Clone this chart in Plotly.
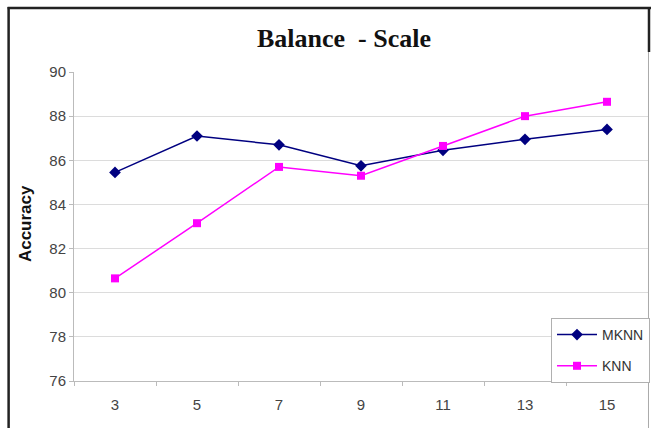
import plotly.graph_objects as go

k_values = [3, 5, 7, 9, 11, 13, 15]
mknn_acc = [85.45, 87.1, 86.7, 85.75, 86.45, 86.95, 87.4]
knn_acc = [80.65, 83.15, 85.7, 85.3, 86.65, 88.0, 88.65]

W, H = 651, 428
ML, MR, MT, MB = 74, 2, 72, 47
pw, ph = W - ML - MR, H - MT - MB

def px(x):
    return (x - ML) / pw

def py(y):
    return (H - MB - y) / ph

sans = "Liberation Sans, Arial, sans-serif"

fig = go.Figure()
fig.add_trace(go.Scatter(
    x=[str(k) for k in k_values], y=mknn_acc, name="MKNN",
    mode="lines+markers", legendgroup="a",
    line=dict(color="#000080", width=1.5),
    marker=dict(symbol="diamond", size=9, color="#000080"),
))
fig.add_trace(go.Scatter(
    x=[str(k) for k in k_values], y=knn_acc, name="KNN",
    mode="lines+markers", legendgroup="b",
    line=dict(color="#FF00FF", width=1.5),
    marker=dict(symbol="square", size=8, color="#FF00FF"),
))

fig.update_layout(
    width=W, height=H,
    margin=dict(l=ML, r=MR, t=MT, b=MB),
    paper_bgcolor="white", plot_bgcolor="white",
    title=dict(text="<b>Balance  - Scale</b>", x=344 / W, xanchor="center",
               y=1 - 38 / H, yanchor="middle",
               font=dict(family="Liberation Serif, Times New Roman, serif",
                         size=26, color="#111")),
    font=dict(family=sans, color="#333"),
    legend=dict(x=px(551), y=py(318), xanchor="left", yanchor="top",
                bgcolor="white", bordercolor="#b0b0b0", borderwidth=1,
                font=dict(size=14, color="#333"), itemwidth=40,
                traceorder="grouped", tracegroupgap=10),
    showlegend=True,
)
fig.update_xaxes(
    type="category", range=[-0.5, 6.5],
    tickson="boundaries", ticks="outside", ticklen=4, tickcolor="#bbb",
    showline=True, linecolor="#bbb", linewidth=1, ticklabelstandoff=10,
    showgrid=False, tickfont=dict(size=15, color="#444"),
)
fig.update_yaxes(
    range=[76, 90], dtick=2, ticks="outside", ticklen=4, tickcolor="#bbb",
    showline=True, linecolor="#bbb", linewidth=1,
    showgrid=True, gridcolor="#dcdcdc", gridwidth=1, zeroline=False,
    tickfont=dict(size=15, color="#444"),
)

fig.add_annotation(
    text="<b>Accuracy</b>", textangle=-90, xref="paper", yref="paper",
    x=px(25), y=py(224), xanchor="center", yanchor="middle", showarrow=False,
    font=dict(size=17, color="#111", family=sans),
)

# outer chart frame
frame = dict(color="#222", width=2.5)
fig.add_shape(type="line", xref="paper", yref="paper",
              x0=px(8.5), x1=px(8.5), y0=py(7), y1=py(440), line=frame)
fig.add_shape(type="line", xref="paper", yref="paper",
              x0=px(7.5), x1=px(652), y0=py(8), y1=py(8), line=frame)
fig.add_shape(type="line", xref="paper", yref="paper",
              x0=px(650), x1=px(650), y0=py(7), y1=py(52), line=frame)
fig.add_shape(type="line", xref="paper", yref="paper",
              x0=px(649.5), x1=px(649.5), y0=py(52), y1=py(440),
              line=dict(color="#aaa", width=1))

fig.write_html("out.html", config={"displayModeBar": False},
               post_script="document.body.style.margin='0';"
                           "document.body.style.overflow='hidden';")
